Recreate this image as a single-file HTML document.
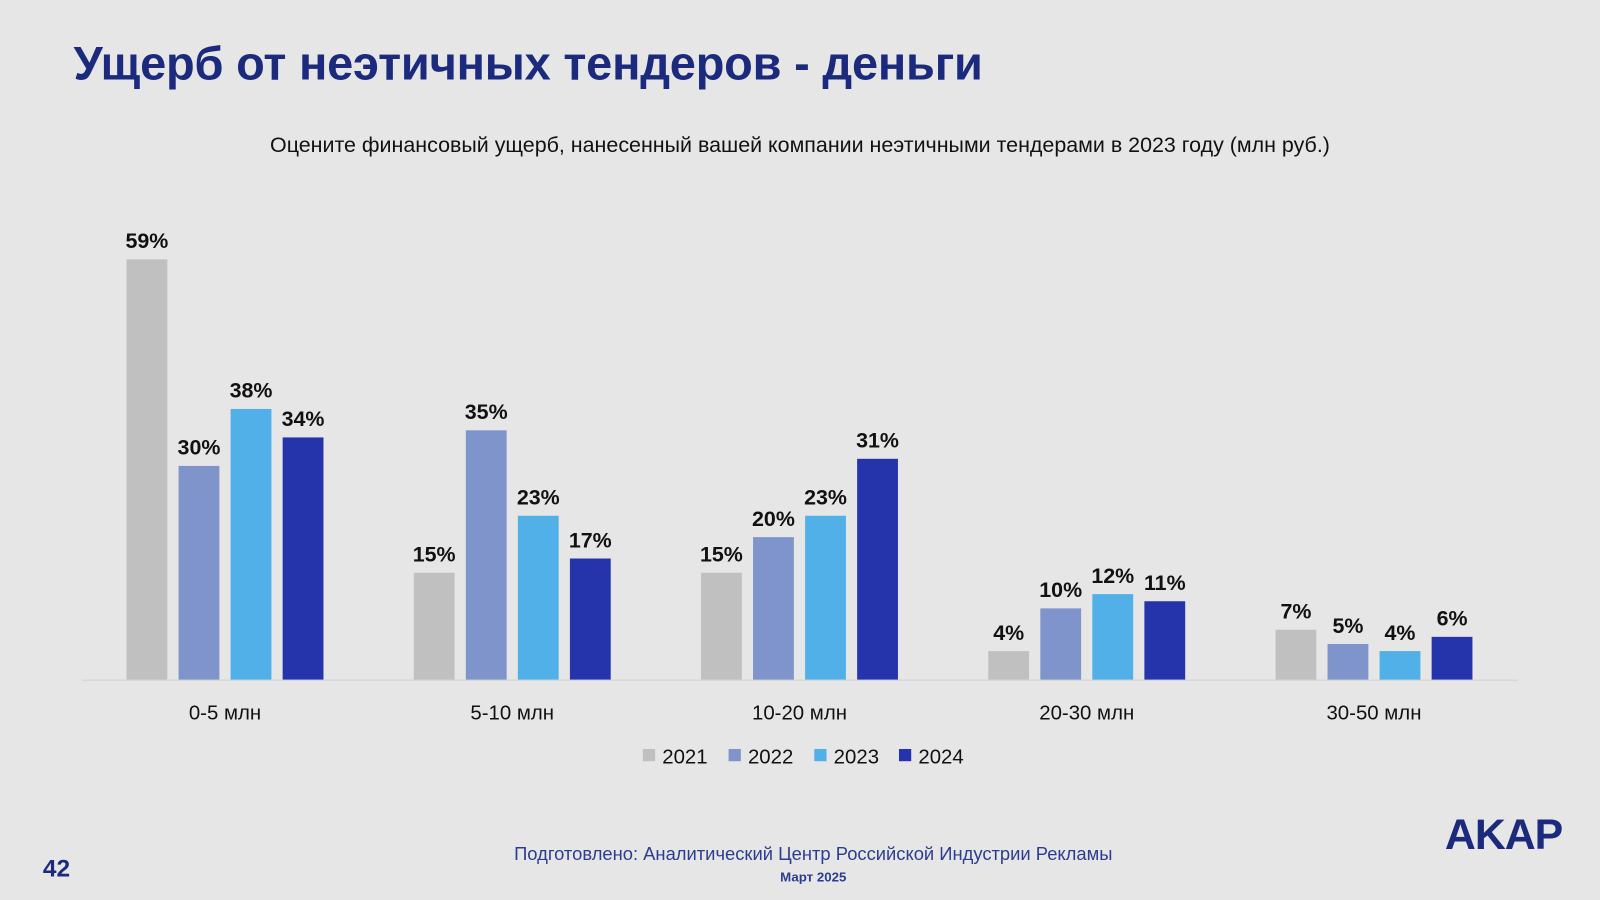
<!DOCTYPE html>
<html><head><meta charset="utf-8">
<style>
html,body{margin:0;padding:0;width:1600px;height:900px;overflow:hidden;background:#e6e6e6;}
#wrap{position:absolute;left:0;top:0;width:1568px;height:882px;transform:scale(1.020408);transform-origin:0 0;font-family:"Liberation Sans",sans-serif;}
.t{position:absolute;white-space:nowrap;}
</style></head>
<body>
<div id="wrap">
<div class="t" style="left:72px;top:35px;font-size:46px;font-weight:bold;color:#1b2a7c;letter-spacing:-0.2px;">Ущерб от неэтичных тендеров - деньги</div>
<div class="t" style="left:0;width:1568px;text-align:center;top:131px;font-size:21px;color:#111;">Оцените финансовый ущерб, нанесенный вашей компании неэтичными тендерами в 2023 году (млн руб.)</div>
<svg id="chart" width="1568" height="882" style="position:absolute;left:0;top:0;" font-family="Liberation Sans, sans-serif"></svg>
<div class="t" style="left:0;width:1594px;text-align:center;top:827px;font-size:18px;color:#2b3d8f;">Подготовлено: Аналитический Центр Российской Индустрии Рекламы</div>
<div class="t" style="left:0;width:1594px;text-align:center;top:852px;font-size:13px;font-weight:bold;color:#2b3d8f;">Март 2025</div>
<div class="t" style="left:42px;top:838px;font-size:24px;font-weight:bold;color:#1b2a7c;">42</div>
<div class="t" style="left:1416px;top:794px;font-size:42px;font-weight:bold;color:#1b2a7c;letter-spacing:-1px;">AKAP</div>
</div>
<script>
const categories=["0-5 млн","5-10 млн","10-20 млн","20-30 млн","30-50 млн"];
const seriesNames=["2021","2022","2023","2024"];
const s2021=[59,15,15,4,7];
const s2022=[30,35,20,10,5];
const s2023=[38,23,23,12,4];
const s2024=[34,17,31,11,6];
const series=[s2021,s2022,s2023,s2024];
const colors=["#c0c0c0","#8094cc","#52b0e8","#2634ac"];
const svg=document.getElementById('chart');
const NS="http://www.w3.org/2000/svg";
const base=666, pxPer=6.98, g0=124, gStep=281.5, bStep=51, bw=40;
const y=v=>base-v*pxPer;
const xb=(g,s)=>g0+g*gStep+s*bStep;
function mk(tag,attrs,text){const e=document.createElementNS(NS,tag);for(const k in attrs)e.setAttribute(k,attrs[k]);if(text!==undefined)e.textContent=text;svg.appendChild(e);return e;}
let ax=mk('line',{x1:80,x2:1488,y1:base+0.5,y2:base+0.5,stroke:'#d0d0d0','stroke-width':1});


categories.forEach((c,g)=>{
  series.forEach((arr,s)=>{
    const v=arr[g];
    const r=mk('rect',{x:xb(g,s),y:y(v),width:bw,height:v*pxPer,fill:colors[s]});
    
    
    const t=mk('text',{x:xb(g,s)+bw/2,y:y(v)-11,'text-anchor':'middle','font-size':21,'font-weight':'bold',fill:'#111'},v+'%');
    
    
  });
  const cl=mk('text',{x:g0+g*gStep+(3*bStep+bw)/2,y:705,'text-anchor':'middle','font-size':20,fill:'#111'},c);
  
  
});
const lx=[630,714,798,881];
seriesNames.forEach((n,i)=>{
  const r=mk('rect',{x:lx[i],y:734,width:12,height:12,fill:colors[i]});
  
  
  const t=mk('text',{x:lx[i]+19,y:748,'font-size':20,fill:'#111'},n);
  
  
});
</script>
</body></html>
